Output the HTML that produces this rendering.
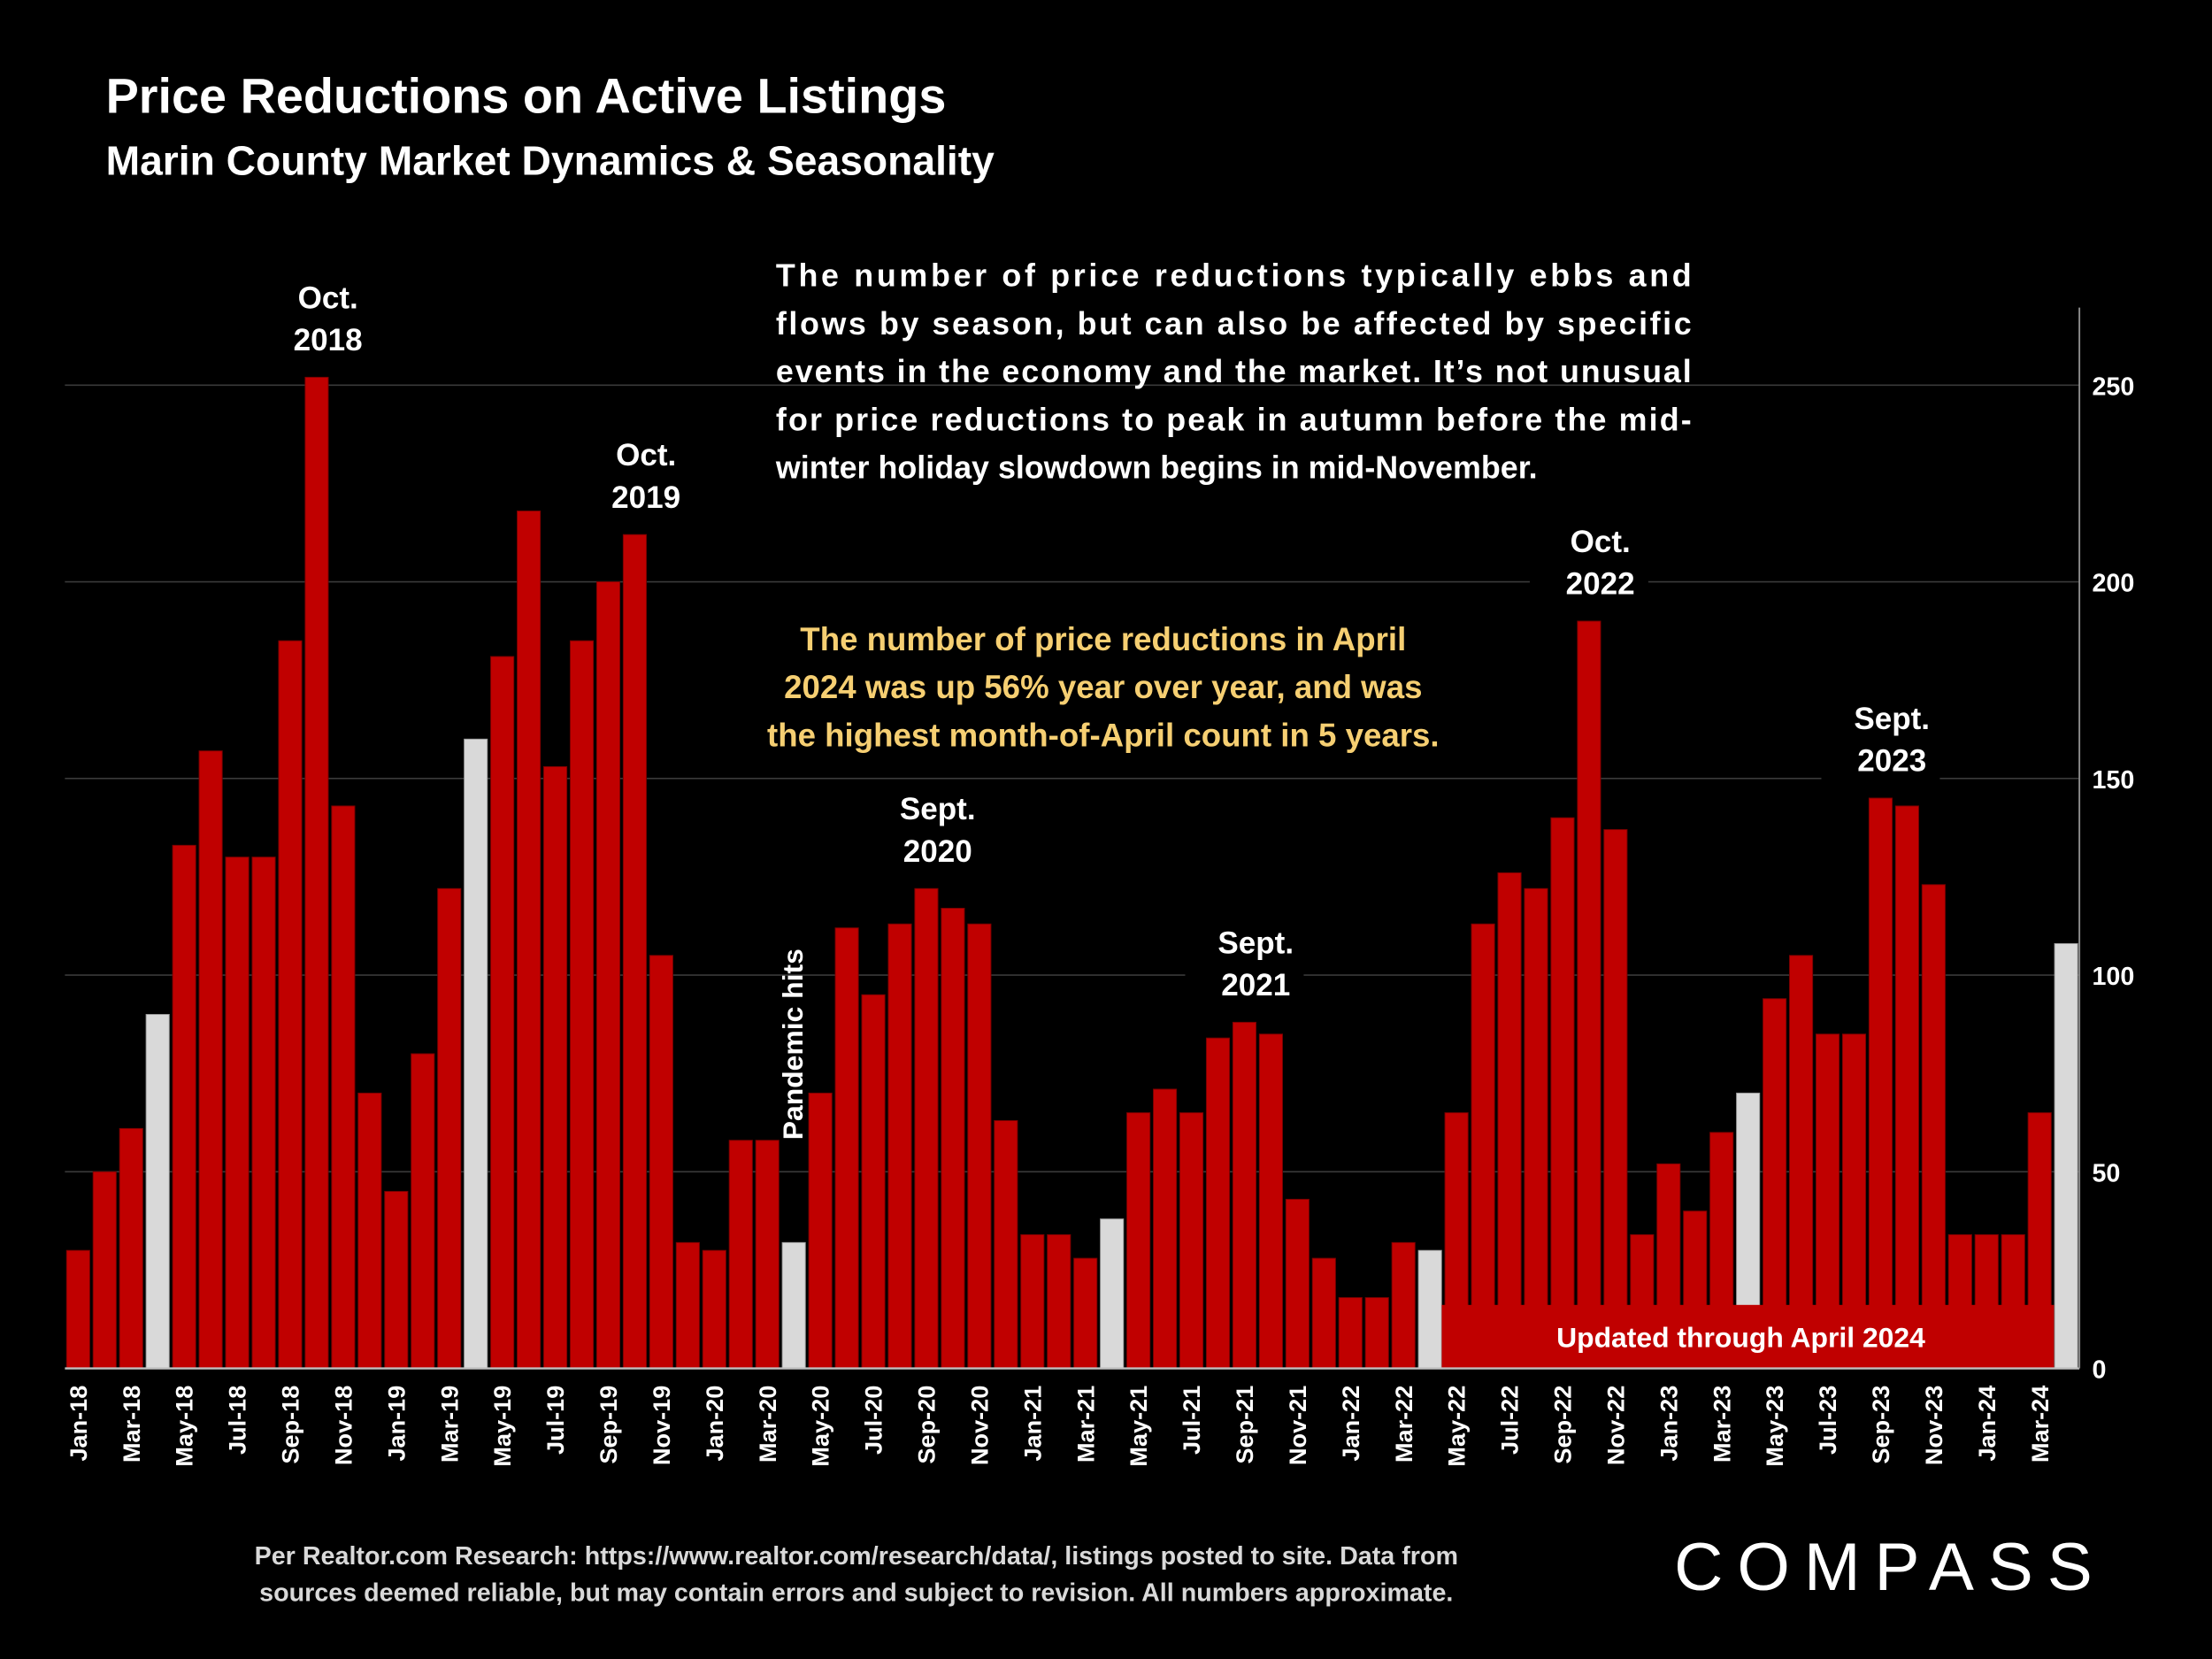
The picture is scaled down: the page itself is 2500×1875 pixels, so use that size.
<!DOCTYPE html>
<html><head><meta charset="utf-8"><style>
html,body{margin:0;padding:0;background:#000;}
svg{display:block;font-family:"Liberation Sans",sans-serif;}
</style></head><body>
<svg id="chart" width="2500" height="1875" viewBox="0 0 1568 1176" xmlns="http://www.w3.org/2000/svg">
<rect width="1568" height="1176" fill="#000"/>
<text x="75" y="80" fill="#fff" font-size="35" font-weight="bold">Price Reductions on Active Listings</text>
<text x="75" y="124" fill="#fff" font-size="29" font-weight="bold">Marin County Market Dynamics &amp; Seasonality</text>
<g id="grid"></g>
<g id="bars"></g>
<g>
<rect x="1022" y="925" width="434" height="45" fill="#c00000"/>
</g>
<g id="axes"></g>
<g fill="#fff" font-size="22.5" font-weight="bold">
<text x="550" y="203" textLength="649" lengthAdjust="spacing">The number of price reductions typically ebbs and</text>
<text x="550" y="237" textLength="649" lengthAdjust="spacing">flows by season, but can also be affected by specific</text>
<text x="550" y="271" textLength="649" lengthAdjust="spacing">events in the economy and the market. It’s not unusual</text>
<text x="550" y="305" textLength="649" lengthAdjust="spacing">for price reductions to peak in autumn before the mid-</text>
<text x="550" y="339">winter holiday slowdown begins in mid-November.</text>
</g>
<g fill="#f6cf72" font-size="23" font-weight="bold" text-anchor="middle">
<rect x="515" y="432" width="535" height="108" fill="#000"/>
<text x="782" y="461">The number of price reductions in April</text>
<text x="782" y="495">2024 was up 56% year over year, and was</text>
<text x="782" y="529">the highest month-of-April count in 5 years.</text>
</g>
<g id="labels" fill="#fff" font-size="22" font-weight="bold" text-anchor="middle"></g>
<g>
<text transform="translate(569,808) rotate(-90)" fill="#fff" font-size="20" font-weight="bold">Pandemic hits</text>
</g>
<text x="1234" y="955" fill="#fff" font-size="20" font-weight="bold" text-anchor="middle">Updated through April 2024</text>
<g fill="#d9d9d9" font-size="18" font-weight="bold" text-anchor="middle">
<text x="607" y="1109">Per Realtor.com Research:  https://www.realtor.com/research/data/, listings posted to site. Data from</text>
<text x="607" y="1135">sources deemed reliable, but may contain errors and subject to revision. All numbers approximate.</text>
</g>
<text x="1340" y="1127" fill="#fff" font-size="48" text-anchor="middle" letter-spacing="10">COMPASS</text>
<script>
const months=["Jan","Feb","Mar","Apr","May","Jun","Jul","Aug","Sep","Oct","Nov","Dec"];
const categories=[];
for(let y=18;y<=24;y++){for(let m=0;m<12;m++){if(y===24&&m>3)break;categories.push(months[m]+"-"+y);}}
const values=[30,50,61,90,133,157,130,130,185,252,143,70,45,80,122,160,181,218,153,185,200,212,105,32,30,58,58,32,70,112,95,113,122,117,113,63,34,34,28,38,65,71,65,84,88,85,43,28,18,18,32,30,65,113,126,122,140,190,137,34,52,40,60,70,94,105,85,85,145,143,123,34,34,34,65,108];
const highlightMonths=["Apr"];
const yTicks=[0,50,100,150,200,250];
const peakLabels=[["Oct-18","Oct.","2018"],["Oct-19","Oct.","2019"],["Sep-20","Sept.","2020"],["Sep-21","Sept.","2021"],["Oct-22","Oct.","2022"],["Sep-23","Sept.","2023"]];
const NS="http://www.w3.org/2000/svg";
const X0=46,X1=1474,Y0=970,YTOP=273,YMAX=250;
const slot=(X1-X0)/categories.length;
const xc=i=>X0+slot*(i+0.5);
const ys=v=>Y0-(Y0-YTOP)*v/YMAX;
function mk(tag,attrs,parent){const e=document.createElementNS(NS,tag);for(const k in attrs)e.setAttribute(k,attrs[k]);parent.appendChild(e);return e;}
const grid=document.getElementById('grid'),bars=document.getElementById('bars'),axes=document.getElementById('axes'),labels=document.getElementById('labels');
yTicks.forEach(t=>{
 if(t>0){const l=mk('line',{x1:X0,x2:X1,y1:ys(t),y2:ys(t),stroke:'#3a3a3a','stroke-width':1},grid);
 
 }
 const tx=mk('text',{x:X1+9,y:ys(t)+7,fill:'#fff','font-size':18,'font-weight':'bold'},axes);
 tx.textContent=t;
 
 
});
values.forEach((v,i)=>{
 const gray=highlightMonths.includes(categories[i].split('-')[0]);
 const r=mk('rect',{x:xc(i)-8.2,y:ys(v),width:16.4,height:Y0-ys(v),fill:gray?'#d9d9d9':'#c00000',stroke:gray?'#999':'#7a0000','stroke-width':0.6},bars);
 
 
 if(i%2===0){
  const t=mk('text',{transform:`translate(${xc(i)+6},${Y0+12}) rotate(-90)`,fill:'#fff','font-size':17,'font-weight':'bold','text-anchor':'end'},axes);
  t.textContent=categories[i];
  
  
 }
});
const ax=mk('line',{x1:X0,x2:X1,y1:Y0,y2:Y0,stroke:'#bfbfbf','stroke-width':1.5},axes);


const ay=mk('line',{x1:X1,x2:X1,y1:218,y2:Y0,stroke:'#8c8c8c','stroke-width':1.2},axes);


peakLabels.forEach(p=>{
 const i=categories.indexOf(p[0]);const top=ys(values[i]);
 const bg=mk('rect',{x:xc(i)-42,y:top-72,width:84,height:62,fill:'#000'},labels);
 
 
 const a=mk('text',{x:xc(i)+8,y:top-49},labels);a.textContent=p[1];
 
 
 const b=mk('text',{x:xc(i)+8,y:top-19},labels);b.textContent=p[2];
 
 
});
</script>
</svg>
</body></html>
